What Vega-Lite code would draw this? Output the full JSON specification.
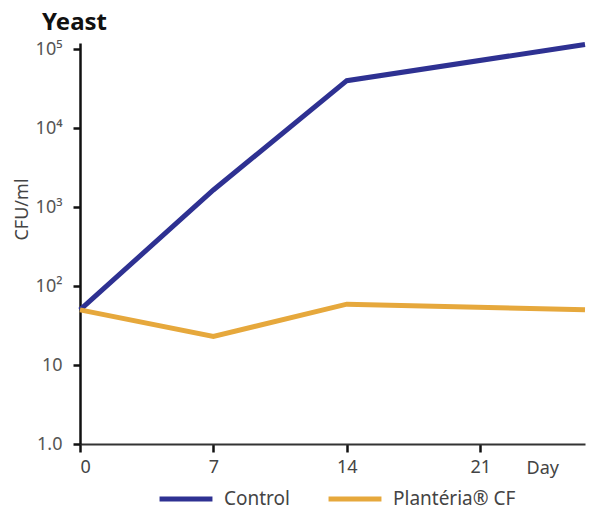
{
  "$schema": "https://vega.github.io/schema/vega-lite/v6.json",
  "autosize": "none",
  "width": 505,
  "height": 401,
  "padding": {"left": 80, "top": 43, "right": 8, "bottom": 64},
  "background": "white",
  "config": {
    "view": {"stroke": null},
    "font": "Noto Sans",
    "axis": {"grid": false}
  },
  "title": {
    "text": "Yeast",
    "anchor": "start",
    "frame": "group",
    "dx": -38,
    "dy": 33,
    "fontSize": 24,
    "fontWeight": "bold",
    "color": "#111111",
    "font": "Noto Sans",
    "baseline": "alphabetic",
    "offset": 13
  },
  "data": {
    "values": [
      {"day": 0, "cfu": 50, "series": "Control"},
      {"day": 7, "cfu": 1650, "series": "Control"},
      {"day": 14, "cfu": 40000, "series": "Control"},
      {"day": 26.5, "cfu": 115000, "series": "Control"},
      {"day": 0, "cfu": 50, "series": "Plantéria® CF"},
      {"day": 7, "cfu": 23, "series": "Plantéria® CF"},
      {"day": 14, "cfu": 59, "series": "Plantéria® CF"},
      {"day": 26.5, "cfu": 50, "series": "Plantéria® CF"}
    ]
  },
  "mark": {"type": "line", "strokeWidth": 5, "clip": false},
  "encoding": {
    "x": {
      "field": "day",
      "type": "quantitative",
      "scale": {"domain": [0, 26.5], "nice": false, "zero": false},
      "axis": {
        "values": [0, 7, 14, 21],
        "title": "Day",
        "titleAngle": 0,
        "titleAlign": "left",
        "titleBaseline": "top",
        "titleX": 446,
        "titleY": 15,
        "titleFontSize": 18,
        "titleFontWeight": "normal",
        "titleColor": "#444444",
        "labelFontSize": 18,
        "labelColor": "#444444",
        "labelFlush": true,
        "labelPadding": 6,
        "domainColor": "#333333",
        "domainWidth": 2,
        "tickColor": "#111111",
        "tickWidth": 2.5,
        "tickSize": 8
      }
    },
    "y": {
      "field": "cfu",
      "type": "quantitative",
      "scale": {"type": "log", "domain": [1, 120000], "nice": false},
      "axis": {
        "values": [1, 10, 100, 1000, 10000, 100000],
        "labelExpr": "datum.value == 1 ? '1.0' : datum.value == 10 ? '10' : datum.value == 100 ? '10²' : datum.value == 1000 ? '10³' : datum.value == 10000 ? '10⁴' : '10⁵'",
        "title": "CFU/ml",
        "titleFontSize": 18,
        "titleFontWeight": "normal",
        "titleColor": "#444444",
        "titleX": -49,
        "titleY": 166,
        "labelFontSize": 18,
        "labelColor": "#555555",
        "labelPadding": 11,
        "domainColor": "#111111",
        "domainWidth": 2.5,
        "tickColor": "#111111",
        "tickWidth": 2.5,
        "tickSize": 7
      }
    },
    "color": {
      "field": "series",
      "type": "nominal",
      "scale": {"domain": ["Control", "Plantéria® CF"], "range": ["#2E3192", "#E6A83C"]},
      "legend": {
        "title": null,
        "orient": "none",
        "direction": "horizontal",
        "legendX": 90,
        "legendY": 440,
        "symbolType": "M-2,0H2",
        "symbolSize": 700,
        "symbolStrokeWidth": 5,
        "labelFontSize": 19,
        "labelColor": "#444444",
        "labelOffset": 22,
        "labelLimit": 300,
        "columnPadding": 28
      }
    }
  }
}
